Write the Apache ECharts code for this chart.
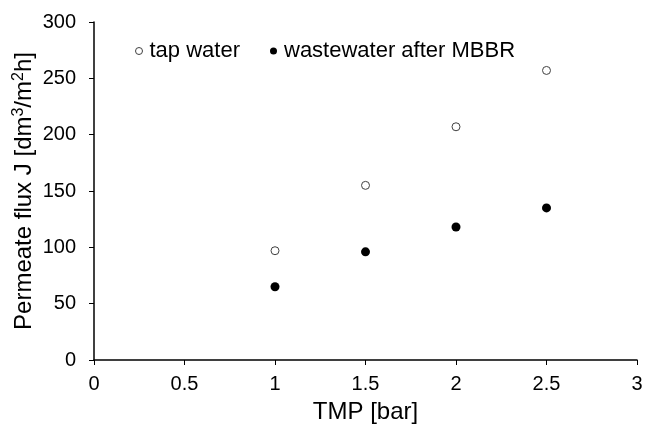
<!DOCTYPE html>
<html>
<head>
<meta charset="utf-8">
<script src="https://cdn.jsdelivr.net/npm/echarts@6/dist/echarts.min.js"></script>
<style>html,body{margin:0;padding:0;background:#fff}#c{width:647px;height:426px}</style>
</head>
<body>
<div id="c"></div>
<script>
var tmp = [1, 1.5, 2, 2.5];
var tapWater = [97, 155, 207, 257];
var wastewater = [65, 96, 118, 135];
var seriesNames = ['tap water', 'wastewater after MBBR'];
var xTitle = 'TMP [bar]';
var yTitle = 'Permeate flux J [dm{sup|3}/m{sup|2}h]';

function pairs(xs, ys) { return xs.map(function (x, i) { return [x, ys[i]]; }); }

var chart = echarts.init(document.getElementById('c'), null, {renderer: 'canvas'});
var font = 'Liberation Sans, Arial, sans-serif';
chart.setOption({
  animation: false,
  textStyle: {fontFamily: font},
  grid: {left: 94, right: 10, top: 22, bottom: 66, containLabel: false, outerBoundsMode: 'none'},
  legend: {
    left: 130, top: 35, itemGap: 30, itemWidth: 7, itemHeight: 7,
    textStyle: {fontFamily: font, fontSize: 22, color: '#000', padding: [0, 0, 0, 2]},
    data: [
      {name: seriesNames[0], icon: 'circle', itemStyle: {color: '#fff', borderColor: '#404040', borderWidth: 1, opacity: 1}},
      {name: seriesNames[1], icon: 'circle', itemStyle: {color: '#000', opacity: 1}}
    ]
  },
  xAxis: {
    type: 'value', min: 0, max: 3, interval: 0.5,
    name: xTitle, nameLocation: 'middle', nameGap: 40, nameMoveOverlap: false,
    nameTextStyle: {fontSize: 24, color: '#000', fontFamily: font},
    axisLine: {onZero: false, lineStyle: {color: '#000', width: 1.5}},
    axisTick: {show: true, length: 5, lineStyle: {color: '#000'}},
    axisLabel: {fontSize: 20, color: '#000', margin: 14, fontFamily: font},
    splitLine: {show: false}
  },
  yAxis: {
    type: 'value', min: 0, max: 300, interval: 50,
    name: yTitle, nameLocation: 'middle', nameGap: 57, nameRotate: 90, nameMoveOverlap: false,
    nameTextStyle: {fontSize: 24, color: '#000', fontFamily: font, lineHeight: 26,
      rich: {sup: {fontSize: 16, color: '#000', fontFamily: font, verticalAlign: 'top', lineHeight: 16}}},
    axisLine: {show: true, onZero: false, lineStyle: {color: '#000', width: 1.5}},
    axisTick: {show: true, length: 5, lineStyle: {color: '#000'}},
    axisLabel: {fontSize: 20, color: '#000', margin: 18, fontFamily: font},
    splitLine: {show: false}
  },
  series: [
    {name: seriesNames[0], type: 'scatter', data: pairs(tmp, tapWater), symbol: 'circle', symbolSize: 8,
     itemStyle: {color: '#fff', borderColor: '#404040', borderWidth: 1, opacity: 1}},
    {name: seriesNames[1], type: 'scatter', data: pairs(tmp, wastewater), symbol: 'circle', symbolSize: 9,
     itemStyle: {color: '#000', opacity: 1}}
  ]
});
</script>
</body>
</html>
